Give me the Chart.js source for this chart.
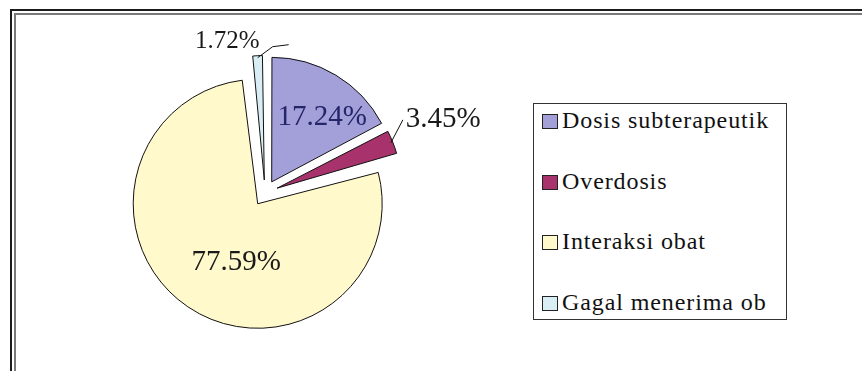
<!DOCTYPE html>
<html lang="id">

<head>
    <meta charset="UTF-8">
    <script src="https://cdn.jsdelivr.net/npm/chart.js"></script>
    <title>Kesalahan dosis</title>
    <style>
        body { margin: 0; background: #fff; overflow: hidden; width: 862px; height: 371px; }
        .frame { position: absolute; width: 1000px; height: 500px; }
        #outer { left: 10px; top: 9px; border-left: 2px solid #1c1c1c; border-top: 2px solid #1c1c1c; }
        #inner { left: 14px; top: 13px; border-left: 2px solid #7a7a7a; border-top: 2px solid #7a7a7a; }
        #pie { position: absolute; left: 0; top: 0; }
        #legend {
            position: absolute; left: 533px; top: 103px; width: 254px; height: 217px;
            border: 1.5px solid #333; box-sizing: border-box;
            font-family: "Liberation Serif", serif; font-size: 24px; letter-spacing: 0.9px; color: #111;
        }
        #legend .item { position: absolute; left: 8px; height: 26px; line-height: 26px; white-space: nowrap; }
        #legend .box { display: inline-block; width: 16px; height: 15px; border: 1px solid #222; margin-right: 4px; vertical-align: -1px; box-sizing: border-box; }
    </style>
</head>

<body>
    <div id="outer" class="frame"></div>
    <div id="inner" class="frame"></div>
    <canvas id="pie" width="530" height="371"></canvas>
    <div id="legend"></div>

    <script>
        // data
        const categories = ['Dosis subterapeutik', 'Overdosis', 'Interaksi obat', 'Gagal menerima ob'];
        const percentValues = [17.24, 3.45, 77.59, 1.72];
        const percentLabels = ['17.24%', '3.45%', '77.59%', '1.72%'];

        const sliceColors = ['#a29fd9', '#a8326c', '#fff9cb', '#d9eef4'];
        const labelColors = ['#25256a', '#1a1a1a', '#1a1a1a', '#1a1a1a'];

        // where each percentage goes: inside (angle fraction t, radius fraction r) or outside with a leader line
        const labelPlace = [
            { t: 0.61, r: 0.66, size: 29 },
            { outside: true, bend: [12, -23], text: [15, -23], align: 'left', size: 29 },
            { t: 0.45, r: 0.5, size: 29 },
            { outside: true, bend: [15, -11], end: [31, -13], text: [2, -16], align: 'right', size: 25 }
        ];

        // Chart.js grows exploded slices by their offset; keep every slice at the same radius
        const keepRadius = {
            id: 'keepRadius',
            beforeDatasetDraw(chart) {
                chart.getDatasetMeta(0).data.forEach(arc => {
                    const off = (arc.options.offset || 0) / 4;
                    arc._baseRadius = arc.outerRadius;
                    arc.outerRadius -= off * (1 - Math.sin(Math.min(Math.PI, arc.circumference)));
                });
            },
            afterDatasetDraw(chart) {
                chart.getDatasetMeta(0).data.forEach(arc => {
                    arc.outerRadius = arc._baseRadius;
                });
            }
        };

        const pieLabels = {
            id: 'pieLabels',
            afterDatasetsDraw(chart) {
                const ctx = chart.ctx;
                const arcs = chart.getDatasetMeta(0).data;
                ctx.save();
                ctx.textBaseline = 'middle';
                arcs.forEach((arc, i) => {
                    const p = arc.getProps(['x', 'y', 'startAngle', 'endAngle', 'outerRadius']);
                    const off = (arc.options.offset || 0) / 4;
                    const mid = (p.startAngle + p.endAngle) / 2;
                    const cx = p.x + Math.cos(mid) * off;
                    const cy = p.y + Math.sin(mid) * off;
                    const place = labelPlace[i];
                    ctx.font = place.size + 'px "Liberation Serif", serif';
                    ctx.fillStyle = labelColors[i];
                    if (!place.outside) {
                        const a = p.startAngle + (p.endAngle - p.startAngle) * place.t;
                        ctx.textAlign = 'center';
                        ctx.fillText(percentLabels[i], cx + Math.cos(a) * p.outerRadius * place.r,
                            cy + Math.sin(a) * p.outerRadius * place.r);
                        return;
                    }
                    const ex = cx + Math.cos(mid) * (p.outerRadius - 2);
                    const ey = cy + Math.sin(mid) * (p.outerRadius - 2);
                    ctx.strokeStyle = '#111';
                    ctx.lineWidth = 1;
                    ctx.beginPath();
                    ctx.moveTo(ex, ey);
                    ctx.lineTo(ex + place.bend[0], ey + place.bend[1]);
                    if (place.end) ctx.lineTo(ex + place.end[0], ey + place.end[1]);
                    ctx.stroke();
                    ctx.textAlign = place.align;
                    ctx.fillText(percentLabels[i], ex + place.text[0], ey + place.text[1]);
                });
                ctx.restore();
            }
        };

        new Chart(document.getElementById('pie'), {
            type: 'pie',
            data: {
                labels: categories,
                datasets: [{
                    data: percentValues,
                    backgroundColor: sliceColors,
                    borderColor: '#111',
                    borderWidth: 1,
                    offset: 52
                }]
            },
            options: {
                responsive: false,
                animation: false,
                layout: { padding: { top: 42, bottom: 27 } },
                plugins: {
                    legend: { display: false },
                    tooltip: { enabled: false }
                }
            },
            plugins: [keepRadius, pieLabels]
        });

        // legend box on the right
        const legend = document.getElementById('legend');
        const itemTops = [3, 64, 124, 185];
        categories.forEach((name, i) => {
            const el = document.createElement('div');
            el.className = 'item';
            el.style.top = itemTops[i] + 'px';
            el.innerHTML = '<span class="box" style="background:' + sliceColors[i] + '"></span>' + name;
            legend.appendChild(el);
        });
    </script>
</body>

</html>
